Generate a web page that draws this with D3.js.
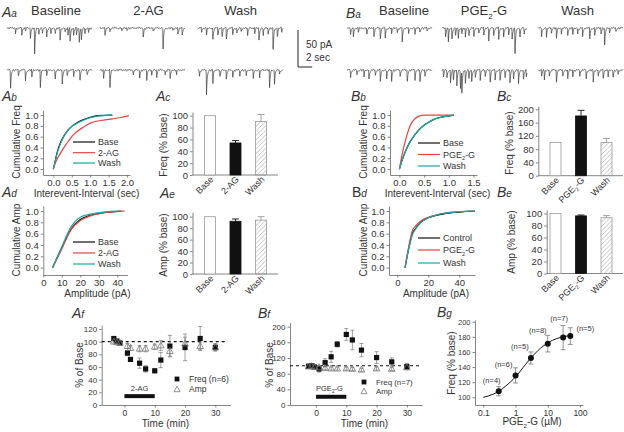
<!DOCTYPE html>
<html><head><meta charset="utf-8">
<script src="https://cdn.jsdelivr.net/npm/d3@7"></script>
<style>body{margin:0;background:#fff}svg{display:block}text{font-family:"Liberation Sans",Arial,Helvetica,sans-serif;fill:#333}</style>
</head><body><svg id="c" width="624" height="432"></svg>
<script>
// ---------------- DATA ----------------
const conditionsA = ["Baseline", "2-AG", "Wash"];
const conditionsB = ["Baseline", "PGE2-G", "Wash"];
// trace events: [time (s), amplitude (pA)]
const eventsABase1 = [[1.2,7],[2.1,9],[2.6,5],[3.3,13],[3.9,36],[4.5,9],[5.0,7],[5.6,13],[6.2,9],[6.8,7],[7.5,16],[8.2,7],[8.6,11],[8.9,20],[9.4,13],[9.8,11],[10.2,18],[10.5,16],[11.0,9],[11.5,7]];
const eventsAAG1 = [[0.7,11],[1.4,5],[3.1,5],[3.8,4],[6.1,14],[7.5,5],[8.9,32],[10.3,5],[11.0,9],[11.6,11]];
const eventsAWash1 = [[0.5,7],[1.2,9],[2.1,16],[2.8,11],[3.4,13],[4.0,18],[4.9,11],[5.5,9],[6.1,7],[7.0,13],[8.0,9],[8.6,18],[9.2,11],[9.9,9],[10.6,36],[11.2,13],[11.8,7]];
const eventsABase2 = [[0.5,27],[1.6,9],[2.6,16],[3.5,11],[4.7,27],[5.6,9],[6.8,13],[7.8,20],[8.5,9],[9.4,11],[10.3,18],[11.3,7]];
const eventsAAG2 = [[0.5,13],[1.4,27],[4.7,7],[5.6,11],[6.6,13],[7.3,9],[8.0,11],[9.2,7],[9.9,13],[10.8,7]];
const eventsAWash2 = [[0.2,9],[1.2,34],[2.1,18],[3.1,11],[4.0,16],[4.9,11],[5.9,9],[6.8,9],[7.8,13],[8.7,9],[10.1,27],[10.8,18],[11.5,7]];
const eventsBBase1 = [[0.5,9],[0.9,13],[1.6,7],[2.8,11],[3.8,13],[4.7,16],[5.4,13],[6.3,9],[7.1,7],[7.8,20],[8.7,9],[9.6,7],[10.3,7],[11.3,5]];
const eventsBPGE1 = [[0.5,13],[0.9,18],[1.4,16],[1.9,11],[2.3,16],[2.8,9],[3.3,13],[3.8,11],[4.5,13],[5.2,9],[5.9,11],[6.6,16],[7.3,13],[8.0,18],[8.7,13],[9.4,11],[9.9,16],[10.3,43],[11.0,13],[11.6,9]];
const eventsBWash1 = [[0.5,13],[1.2,11],[1.9,9],[2.6,16],[3.3,7],[4.2,9],[4.9,11],[5.6,9],[6.3,13],[7.3,18],[8.0,11],[8.9,9],[9.4,29],[10.1,7],[11.0,5]];
const eventsBBase2 = [[0.5,11],[1.4,7],[2.4,9],[3.1,16],[4.0,9],[4.7,18],[5.6,13],[6.3,16],[7.5,9],[8.5,18],[9.6,13],[10.3,20],[11.0,9]];
const eventsBPGE2 = [[0.2,11],[0.7,13],[1.2,18],[1.6,16],[2.1,22],[2.6,27],[2.8,36],[3.3,18],[3.8,13],[4.2,16],[4.7,11],[5.4,13],[6.1,11],[6.8,18],[7.5,13],[8.2,16],[8.9,11],[9.6,18],[10.1,13],[10.8,20],[11.5,16],[11.9,11]];
const eventsBWash2 = [[0.5,9],[0.9,13],[1.6,11],[2.6,18],[3.5,9],[4.2,13],[4.9,11],[5.9,9],[6.8,13],[7.8,16],[8.5,11],[9.2,13],[9.9,9],[10.6,11],[11.3,7]];
const traceNoise = [0.8,-0.6,1.2,-0.9,0.3,-1.1,0.9,-0.4,0.6,-0.8,1.3,-0.5,0.2,-1.0,0.7,-0.2,1.0,-0.7,0.4,-1.2,0.5,-0.3,0.9];

// cumulative distributions [x, cumulative fraction]
const cumIntA_Base = [[0,0],[0.05,0.15],[0.1,0.3],[0.2,0.5],[0.3,0.63],[0.4,0.72],[0.5,0.79],[0.6,0.84],[0.8,0.91],[1.0,0.96],[1.2,0.99],[1.6,1.0]];
const cumIntA_AG = [[0,0],[0.05,0.1],[0.1,0.18],[0.2,0.3],[0.3,0.41],[0.4,0.51],[0.5,0.6],[0.6,0.67],[0.8,0.77],[1.0,0.85],[1.2,0.89],[1.4,0.91],[1.6,0.93],[1.8,0.95],[2.05,0.99]];
const cumIntA_Wash = [[0,0],[0.05,0.14],[0.1,0.28],[0.2,0.48],[0.3,0.62],[0.4,0.72],[0.5,0.79],[0.6,0.83],[0.8,0.9],[1.0,0.95],[1.2,0.98],[1.6,1.0]];
const cumAmpA_Base = [[5,0],[10,0.35],[15,0.68],[20,0.85],[25,0.92],[30,0.96],[35,0.98],[40,0.995],[42,1.0]];
const cumAmpA_AG = [[5,0],[10,0.33],[15,0.67],[20,0.83],[25,0.91],[30,0.95],[35,0.98],[40,0.99],[44,1.0]];
const cumAmpA_Wash = [[5,0],[10,0.37],[15,0.72],[20,0.89],[25,0.94],[30,0.97],[35,0.99],[40,1.0]];
const cumIntB_Base = [[0,0],[0.05,0.15],[0.1,0.28],[0.2,0.48],[0.3,0.62],[0.4,0.73],[0.5,0.81],[0.6,0.87],[0.7,0.92],[0.8,0.95],[0.9,0.97],[1.1,1.0]];
const cumIntB_PGE = [[0,0],[0.05,0.25],[0.1,0.45],[0.15,0.62],[0.2,0.76],[0.25,0.86],[0.3,0.92],[0.4,0.98],[0.5,1.0],[1.1,1.0]];
const cumIntB_Wash = [[0,0],[0.05,0.15],[0.1,0.28],[0.2,0.48],[0.3,0.62],[0.4,0.73],[0.5,0.81],[0.6,0.87],[0.7,0.92],[0.8,0.95],[0.9,0.97],[1.1,1.0]];
const cumAmpB_Base = [[5,0],[10,0.62],[12,0.7],[15,0.8],[20,0.88],[25,0.92],[30,0.95],[40,0.98],[50,1.0]];
const cumAmpB_PGE = [[5,0],[10,0.67],[12,0.74],[15,0.82],[20,0.89],[25,0.93],[30,0.96],[40,0.99],[50,1.0]];
const cumAmpB_Wash = [[5,0],[10,0.6],[12,0.69],[15,0.79],[20,0.88],[25,0.93],[30,0.96],[40,0.99],[50,1.0]];

// bar charts
const barCatsA = ["Base", "2-AG", "Wash"];
const barCatsB = ["Base", "PGE2-G", "Wash"];
const freqA = [100, 54, 90], freqAErr = [0, 4, 12];
const ampA = [100, 92, 94], ampAErr = [0, 4, 6];
const freqB = [100, 180, 100], freqBErr = [0, 17, 12];
const ampB = [100, 96, 93], ampBErr = [0, 1.5, 3.5];

// time courses
const timeA = [-3.5,-2.5,-1.5,1,2,5,7,10,12,15,20,25,30];
const freqTimeA = [105,101,98,82,72,66,57,54,71,93,91,105,91];
const freqTimeAErr = [3,2,2,4,3,8,5,3,12,17,21,19,6];
const ampTimeA = [100,99,98,93,90,89,89,92,94,85,97,93,91];
const ampTimeAErr = [2,2,2,4,4,5,5,4,8,8,10,6,5];
const timeB = [-2.5,-1.5,-0.5,1,3,5,7,10,12,15,20,25,30];
const freqTimeB = [99,100,97,92,108,123,155,180,166,140,121,110,98];
const freqTimeBErr = [4,4,4,8,10,14,7,15,25,17,15,10,8];
const ampTimeB = [98,99,97,96,94,93,93,93,92,90,93,92,96];
const ampTimeBErr = [3,3,3,4,4,4,4,4,4,4,4,4,4];

// dose response
const concB = [0.3, 1, 3, 10, 30, 50];
const freqConc = [108, 129, 152, 171, 179, 181];
const freqConcErr = [6, 10, 8, 11, 16, 11];
const nLabels = ["(n=4)","(n=6)","(n=5)","(n=8)","(n=7)","(n=5)"];
const fitConc = [0.1,0.2,0.3,0.5,1,2,3,5,10,20,30,50];
const fitFreq = [100,104,108,115,127,143,152,162,172,178,180,182];

// ---------------- DRAW ----------------
const svg = d3.select("#c");
const FONT = '"Liberation Sans", Arial, Helvetica, sans-serif';
const AX = "#666", TX = "#333";
const RED = "#e8433f", TEAL = "#17a9a4", BLK = "#111";

function styleAxis(g, gen, fs) {
  g.call(gen);
  g.attr("font-size", fs).attr("font-family", FONT);
  g.select(".domain").attr("stroke", AX).attr("stroke-width", 0.8);
  g.selectAll(".tick line").attr("stroke", AX).attr("stroke-width", 0.8);
  g.selectAll(".tick text").attr("fill", TX);
}
function rich(sel, str, fs) {
  const i = str.indexOf("PGE2");
  if (i < 0) { sel.text(str); return sel; }
  sel.append("tspan").text(str.slice(0, i) + "PGE");
  sel.append("tspan").attr("font-size", fs * 0.62).attr("dy", fs * 0.28).text("2");
  sel.append("tspan").attr("dy", -fs * 0.28).text(str.slice(i + 4));
  return sel;
}
function txt(x, y, str, fs, anchor = "start") {
  const t = svg.append("text").attr("x", x).attr("y", y).attr("font-size", fs).attr("text-anchor", anchor);
  return rich(t, str, fs);
}
function vtxt(x, y, str, fs) {
  const t = svg.append("text").attr("transform", `translate(${x},${y}) rotate(-90)`).attr("font-size", fs).attr("text-anchor", "middle");
  return rich(t, str, fs);
}
function panelLabel(x, y, big, small, bigItalic = true) {
  const t = svg.append("text").attr("x", x).attr("y", y).attr("fill", "#222");
  t.append("tspan").attr("font-size", 14).attr("font-style", bigItalic ? "italic" : "normal").text(big);
  t.append("tspan").attr("font-size", 10).attr("font-style", "italic").text(small);
}

// ----- traces -----
function drawTrace(events, x0, y0, off) {
  const xs = d3.scaleLinear().domain([0, 12]).range([x0, x0 + 85]);
  const ys = d3.scaleLinear().domain([0, 50]).range([y0, y0 + 37]);
  const pts = [];
  for (let t = 0; t <= 12.0001; t += 0.03) {
    const k = t / 0.15 + off, i0 = Math.floor(k), f = k - i0, n = traceNoise.length;
    let v = 1.3 * (traceNoise[i0 % n] * (1 - f) + traceNoise[(i0 + 1) % n] * f);
    for (const [te, a] of events) {
      const dt = t - te;
      if (dt >= -0.04 && dt < 0) v += a * (1 + dt / 0.04);
      else if (dt >= 0 && dt < 1.2) v += a * Math.exp(-dt / 0.09);
    }
    pts.push([t, v]);
  }
  svg.append("path").attr("d", d3.line().x(d => xs(d[0])).y(d => ys(d[1]))(pts))
    .attr("fill", "none").attr("stroke", "#3a3a3a").attr("stroke-width", 0.7);
}
const traceXA = [7, 100, 198], traceXB = [347, 442, 538];
[eventsABase1, eventsAAG1, eventsAWash1].forEach((e, i) => drawTrace(e, traceXA[i], 28, i * 5));
[eventsABase2, eventsAAG2, eventsAWash2].forEach((e, i) => drawTrace(e, traceXA[i], 70, i * 5 + 3));
[eventsBBase1, eventsBPGE1, eventsBWash1].forEach((e, i) => drawTrace(e, traceXB[i], 28, i * 5 + 7));
[eventsBBase2, eventsBPGE2, eventsBWash2].forEach((e, i) => drawTrace(e, traceXB[i], 70, i * 5 + 11));
[56, 148.5, 240.5].forEach((cx, i) => txt(cx, 15, conditionsA[i], 13, "middle"));
[404, 484, 577.5].forEach((cx, i) => txt(cx, 15, conditionsB[i], 13, "middle"));
// scale bar: 50 pA, 2 sec
const sbY = d3.scaleLinear().domain([0, 50]).range([30, 67]);
const sbX = d3.scaleLinear().domain([0, 2]).range([298, 312.2]);
svg.append("path").attr("d", `M${sbX(0)},${sbY(0)}V${sbY(50)}H${sbX(2)}`).attr("fill", "none").attr("stroke", "#222").attr("stroke-width", 1);
txt(306, 48, "50 pA", 10);
txt(306, 61, "2 sec", 10);

panelLabel(2, 17, "A", "a");
panelLabel(346, 18, "B", "a");

// ----- cumulative panels -----
function cumPanel(o) {
  const x = d3.scaleLinear().domain(o.xd).range(o.xr);
  const y = d3.scaleLinear().domain(o.yd).range(o.yr);
  styleAxis(svg.append("g").attr("transform", `translate(0,${o.yr[0]})`),
    d3.axisBottom(x).tickValues(o.xt).tickFormat(o.xf).tickSize(2.5).tickPadding(2).tickSizeOuter(0), 9.5);
  styleAxis(svg.append("g").attr("transform", `translate(${o.xr[0]},0)`),
    d3.axisLeft(y).tickValues([0, 0.2, 0.4, 0.6, 0.8, 1.0]).tickFormat(d3.format(".1f")).tickSize(2.5).tickPadding(2).tickSizeOuter(0), 9.5);
  const ln = d3.line().x(d => x(d[0])).y(d => y(d[1])).curve(d3.curveMonotoneX);
  const cols = [BLK, RED, TEAL];
  o.series.forEach((s, i) => svg.append("path").attr("d", ln(s)).attr("fill", "none").attr("stroke", cols[i]).attr("stroke-width", 1.2));
  o.names.forEach((n, i) => {
    svg.append("line").attr("x1", o.lx).attr("x2", o.lx + 22).attr("y1", o.ly[i]).attr("y2", o.ly[i]).attr("stroke", cols[i]).attr("stroke-width", 1.2);
    txt(o.lx + 25, o.ly[i] + 3.2, n, 9);
  });
  txt((o.xr[0] + o.xr[1]) / 2 + o.tdx, o.yr[0] + 21.5, o.xlabel, 10, "middle");
  vtxt(o.vx, o.vy, o.ylabel, 10);
}
cumPanel({xd: [-0.28, 2.08], xr: [43, 130], yd: [-0.11, 1.09], yr: [175, 110.2], xt: [0, 0.5, 1, 1.5, 2], xf: d3.format(".1f"),
  series: [cumIntA_Base, cumIntA_AG, cumIntA_Wash], names: ["Base", "2-AG", "Wash"], lx: 73, ly: [142, 152.7, 163],
  xlabel: "Interevent-Interval (sec)", tdx: 0, ylabel: "Cumulative Freq", vx: 20, vy: 142});
cumPanel({xd: [0, 45.5], xr: [43.3, 127.5], yd: [-0.13, 1.09], yr: [275, 205.9], xt: [0, 10, 20, 30, 40], xf: d3.format("d"),
  series: [cumAmpA_Base, cumAmpA_AG, cumAmpA_Wash], names: ["Base", "2-AG", "Wash"], lx: 73, ly: [242, 253, 264],
  xlabel: "Amplitude (pA)", tdx: 12, ylabel: "Cumulative Amp", vx: 20, vy: 240});
cumPanel({xd: [-0.19, 1.57], xr: [390, 477], yd: [-0.11, 1.09], yr: [175, 110.2], xt: [0, 0.5, 1, 1.5], xf: d3.format(".1f"),
  series: [cumIntB_Base, cumIntB_PGE, cumIntB_Wash], names: ["Base", "PGE2-G", "Wash"], lx: 418, ly: [143, 154.5, 166],
  xlabel: "Interevent-Interval (sec)", tdx: 4, ylabel: "Cumulative Freq", vx: 367, vy: 142});
cumPanel({xd: [-5.35, 50.1], xr: [389, 475], yd: [-0.13, 1.09], yr: [275, 205.9], xt: [0, 20, 40], xf: d3.format("d"),
  series: [cumAmpB_Base, cumAmpB_PGE, cumAmpB_Wash], names: ["Control", "PGE2-G", "Wash"], lx: 418, ly: [238, 250, 263],
  xlabel: "Amplitude (pA)", tdx: 4, ylabel: "Cumulative Amp", vx: 367, vy: 240});
panelLabel(2, 101, "A", "b");
panelLabel(2, 197, "A", "d");
panelLabel(351, 101, "B", "b");
panelLabel(352, 197, "B", "d", false);

// ----- bar panels -----
const defs = svg.append("defs");
defs.append("pattern").attr("id", "hatch").attr("patternUnits", "userSpaceOnUse").attr("width", 4.5).attr("height", 4.5)
  .append("path").attr("d", "M-1,1 l2,-2 M0,4.5 l4.5,-4.5 M3.5,5.5 l2,-2").attr("stroke", "#999").attr("stroke-width", 0.6);
function barPanel(o) {
  const y = d3.scaleLinear().domain(o.yd).range(o.yr);
  const x = d3.scalePoint().domain(o.cats).range(o.pr);
  styleAxis(svg.append("g").attr("transform", `translate(${o.ax},0)`),
    d3.axisLeft(y).tickValues(o.yt).tickSize(2.5).tickPadding(2).tickSizeOuter(0), 9.5);
  svg.append("line").attr("x1", o.ax).attr("x2", o.xend).attr("y1", y(0)).attr("y2", y(0)).attr("stroke", AX).attr("stroke-width", 0.8);
  const fills = ["#fff", "#111", "url(#hatch)"], strokes = ["#9a9a9a", "#111", "#9a9a9a"];
  o.cats.forEach((c, i) => {
    const cx = x(c), v = o.vals[i], e = o.errs[i];
    if (e > 0) {
      svg.append("path").attr("d", `M${cx},${y(v)}V${y(v + e)}M${cx - 3.5},${y(v + e)}H${cx + 3.5}`)
        .attr("stroke", strokes[i]).attr("stroke-width", 0.9).attr("fill", "none");
    }
    svg.append("rect").attr("x", cx - 5.5).attr("width", 11).attr("y", y(v)).attr("height", y(0) - y(v))
      .attr("fill", fills[i]).attr("stroke", strokes[i]).attr("stroke-width", 0.8);
    const t = svg.append("text").attr("transform", `translate(${cx + 4},${y(0) + 5}) rotate(-45)`)
      .attr("text-anchor", "end").attr("font-size", 9);
    rich(t, c, 9);
  });
  vtxt(o.vx, o.vy, o.ylabel, 10);
}
barPanel({cats: barCatsA, vals: freqA, errs: freqAErr, yd: [0, 106], yr: [175, 112.1], yt: [0, 20, 40, 60, 80, 100], ax: 192.5, xend: 278, pr: [210, 261], ylabel: "Freq (% base)", vx: 167, vy: 145});
barPanel({cats: barCatsA, vals: ampA, errs: ampAErr, yd: [0, 108], yr: [274, 212.1], yt: [0, 20, 40, 60, 80, 100], ax: 192.5, xend: 278, pr: [210, 261], ylabel: "Amp (% base)", vx: 167, vy: 245});
barPanel({cats: barCatsB, vals: freqB, errs: freqBErr, yd: [0, 210], yr: [175.7, 106], yt: [0, 40, 80, 120, 160, 200], ax: 538.3, xend: 623, pr: [555.5, 606.5], ylabel: "Freq (% base)", vx: 513, vy: 143});
barPanel({cats: barCatsB, vals: ampB, errs: ampBErr, yd: [0, 106], yr: [273.5, 209.9], yt: [0, 20, 40, 60, 80, 100], ax: 546.7, xend: 623, pr: [555.5, 606.5], ylabel: "Amp (% base)", vx: 515, vy: 242});
panelLabel(156, 101, "A", "c");
panelLabel(160, 198, "A", "e");
panelLabel(497, 101, "B", "c");
panelLabel(497, 197, "B", "e");

// ----- time course panels -----
function tri(x, y, s) { return `M${x},${y - s * 0.6}L${x + s * 0.55},${y + s * 0.4}L${x - s * 0.55},${y + s * 0.4}Z`; }
function timePanel(o) {
  const x = d3.scaleLinear().domain(o.xd).range(o.xr);
  const y = d3.scaleLinear().domain(o.yd).range(o.yr);
  styleAxis(svg.append("g").attr("transform", `translate(0,${o.yr[0]})`),
    d3.axisBottom(x).tickValues([0, 10, 20, 30]).tickSize(2.5).tickPadding(2).tickSizeOuter(0), 8.5);
  styleAxis(svg.append("g").attr("transform", `translate(${o.xr[0]},0)`),
    d3.axisLeft(y).tickValues(o.yt).tickSize(2.5).tickPadding(2).tickSizeOuter(0), 8);
  svg.append("line").attr("x1", o.xr[0]).attr("x2", o.dashEnd).attr("y1", y(100)).attr("y2", y(100))
    .attr("stroke", "#111").attr("stroke-width", 1.1).attr("stroke-dasharray", "3,3");
  // drug bar
  svg.append("line").attr("x1", x(0)).attr("x2", x(10)).attr("y1", y(o.barV)).attr("y2", y(o.barV)).attr("stroke", "#111").attr("stroke-width", 4);
  txt(o.drugAnchor === "middle" ? x(5) : x(0), y(o.barV) - 5.5, o.drug, 7.5, o.drugAnchor);
  const eb = (t, v, e) => svg.append("path").attr("d", `M${x(t)},${y(v - e)}V${y(v + e)}M${x(t) - 2},${y(v - e)}H${x(t) + 2}M${x(t) - 2},${y(v + e)}H${x(t) + 2}`)
    .attr("stroke", "#777").attr("stroke-width", 0.7).attr("fill", "none");
  o.t.forEach((t, i) => { eb(t, o.amp[i], o.ampE[i]); eb(t, o.freq[i], o.freqE[i]); });
  o.t.forEach((t, i) => svg.append("rect").attr("x", x(t) - 2.6).attr("y", y(o.freq[i]) - 2.6).attr("width", 5.2).attr("height", 5.2).attr("fill", "#111"));
  o.t.forEach((t, i) => svg.append("path").attr("d", tri(x(t), y(o.amp[i]), 6)).attr("fill", "none").attr("stroke", "#777").attr("stroke-width", 0.8));
  // legend
  svg.append("rect").attr("x", o.lx - 2.4).attr("y", o.ly[0] - 2.4).attr("width", 4.8).attr("height", 4.8).attr("fill", "#111");
  txt(o.lx + 12, o.ly[0] + 2.7, o.freqLabel, o.lfs);
  svg.append("path").attr("d", tri(o.lx, o.ly[1], 5.5)).attr("fill", "none").attr("stroke", "#777").attr("stroke-width", 0.8);
  txt(o.lx + 12, o.ly[1] + 2.7, "Amp", o.lfs);
  txt(x(o.xlabelAt), 427, "Time (min)", 10, "middle");
  vtxt(o.vx, 365, "% of Base", 10);
}
timePanel({xd: [-7.5, 35], xr: [101.7, 230.5], yd: [0, 126], yr: [405, 325.2], yt: [0, 20, 40, 60, 80, 100, 120],
  t: timeA, freq: freqTimeA, freqE: freqTimeAErr, amp: ampTimeA, ampE: ampTimeAErr, dashEnd: 227, barV: 14,
  drug: "2-AG", drugAnchor: "middle", lx: 177, ly: [379, 389.5], lfs: 8.5, freqLabel: "Freq (n=6)", xlabelAt: 13.5, vx: 83});
timePanel({xd: [-8.6, 35], xr: [290, 422], yd: [0, 210], yr: [405, 322.7], yt: [0, 40, 80, 120, 160, 200],
  t: timeB, freq: freqTimeB, freqE: freqTimeBErr, amp: ampTimeB, ampE: ampTimeBErr, dashEnd: 421, barV: 21,
  drug: "PGE2-G", drugAnchor: "start", lx: 364, ly: [382, 391.5], lfs: 7.8, freqLabel: "Freq (n=7)", xlabelAt: 16, vx: 273});
panelLabel(72, 318, "A", "f");
panelLabel(258, 318, "B", "f");

// ----- dose response -----
(function () {
  const x = d3.scaleLog().domain([0.0552, 124]).range([475, 583]);
  const y = d3.scaleLinear().domain([89.8, 202.3]).range([405, 320]);
  styleAxis(svg.append("g").attr("transform", "translate(0,405)"),
    d3.axisBottom(x).tickValues([0.1, 1, 10, 100]).tickFormat(d => String(d)).tickSize(2.5).tickPadding(2).tickSizeOuter(0), 8.5);
  styleAxis(svg.append("g").attr("transform", "translate(475,0)"),
    d3.axisLeft(y).tickValues([100, 120, 140, 160, 180, 200]).tickSize(2.5).tickPadding(2).tickSizeOuter(0), 7.5);
  const fit = fitConc.map((c, i) => [c, fitFreq[i]]);
  svg.append("path").attr("d", d3.line().x(d => x(d[0])).y(d => y(d[1])).curve(d3.curveMonotoneX)(fit))
    .attr("fill", "none").attr("stroke", "#111").attr("stroke-width", 1);
  const off = [[-7, -8], [-12, -8], [-11, -9], [-10, -11], [-4, -17], [15, -5]];
  concB.forEach((c, i) => {
    const cx = x(c), v = freqConc[i], e = freqConcErr[i];
    svg.append("path").attr("d", `M${cx},${y(v - e)}V${y(v + e)}M${cx - 2.5},${y(v - e)}H${cx + 2.5}M${cx - 2.5},${y(v + e)}H${cx + 2.5}`)
      .attr("stroke", "#777").attr("stroke-width", 0.8).attr("fill", "none");
    svg.append("circle").attr("cx", cx).attr("cy", y(v)).attr("r", 3).attr("fill", "#111");
    txt(cx + off[i][0], y(v) + off[i][1], nLabels[i], 7.5, "middle");
  });
  txt(532, 425, "PGE2-G (µM)", 10, "middle");
  vtxt(455, 363, "Freq (% base)", 10);
})();
panelLabel(437, 317, "B", "g");
</script></body></html>
